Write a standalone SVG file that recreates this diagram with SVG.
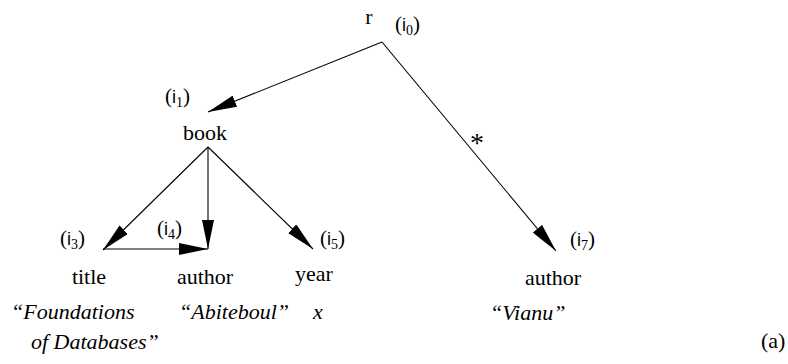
<svg xmlns="http://www.w3.org/2000/svg" width="788" height="364" viewBox="0 0 788 364">
<defs>
<marker id="arr" markerUnits="userSpaceOnUse" viewBox="0 0 29 12" markerWidth="29" markerHeight="12" refX="29" refY="6" orient="auto">
<path d="M0,0 L29,6 L0,12 z" fill="#000"/>
</marker>
<style>
.lbl{font-family:'Liberation Serif','Liberation Sans',serif;font-size:22px;fill:#000}
.val{font-family:'Liberation Serif','Liberation Sans',serif;font-style:italic;font-size:22px;fill:#000}
.id{font-family:'Liberation Serif','Liberation Sans',serif;font-size:21px;fill:#000}
.sf{font-family:'Liberation Sans',sans-serif;font-size:18px}
.sub{font-size:14px}
.edge{stroke:#000;stroke-width:1.1;fill:none;marker-end:url(#arr)}
</style>
</defs>
<rect width="788" height="364" fill="#fff"/>
<g id="connectors">
<line class="edge" x1="382" y1="42" x2="208" y2="112"/>
<line class="edge" x1="382" y1="42" x2="556" y2="251"/>
<line class="edge" x1="208" y1="147" x2="103" y2="250"/>
<line class="edge" x1="208" y1="147" x2="208" y2="249"/>
<line class="edge" x1="208" y1="147" x2="313" y2="249"/>
<line class="edge" x1="103" y1="249" x2="208" y2="249"/>
<text class="lbl" x="477" y="152" text-anchor="middle" style="font-size:28px">*</text>
</g>
<g id="n-r">
<text class="lbl" x="369" y="24" text-anchor="middle">r</text>
<text class="id" x="395" y="31">(<tspan class="sf">i</tspan><tspan class="sub" dy="4">0</tspan><tspan dy="-4">)</tspan></text>
</g>
<g id="n-book">
<text class="id" x="165" y="103">(<tspan class="sf">i</tspan><tspan class="sub" dy="4">1</tspan><tspan dy="-4">)</tspan></text>
<text class="lbl" x="205" y="140" text-anchor="middle">book</text>
</g>
<g id="n-title">
<text class="id" x="60" y="245">(<tspan class="sf">i</tspan><tspan class="sub" dy="4">3</tspan><tspan dy="-4">)</tspan></text>
<text class="lbl" x="89" y="284" text-anchor="middle">title</text>
<text class="val" x="11" y="319">“Foundations</text>
<text class="val" x="31" y="349">of Databases”</text>
</g>
<g id="n-author">
<text class="id" x="157" y="235">(<tspan class="sf">i</tspan><tspan class="sub" dy="4">4</tspan><tspan dy="-4">)</tspan></text>
<text class="lbl" x="205" y="284" text-anchor="middle">author</text>
<text class="val" x="179" y="319">“Abiteboul”</text>
</g>
<g id="n-year">
<text class="id" x="320" y="245">(<tspan class="sf">i</tspan><tspan class="sub" dy="4">5</tspan><tspan dy="-4">)</tspan></text>
<text class="lbl" x="314" y="281" text-anchor="middle">year</text>
<text class="val" x="313" y="319">x</text>
</g>
<g id="n-author7">
<text class="id" x="570" y="246">(<tspan class="sf">i</tspan><tspan class="sub" dy="4">7</tspan><tspan dy="-4">)</tspan></text>
<text class="lbl" x="553" y="285" text-anchor="middle">author</text>
<text class="val" x="490" y="320">“Vianu”</text>
</g>
<text class="lbl" x="761" y="348">(a)</text>
</svg>
